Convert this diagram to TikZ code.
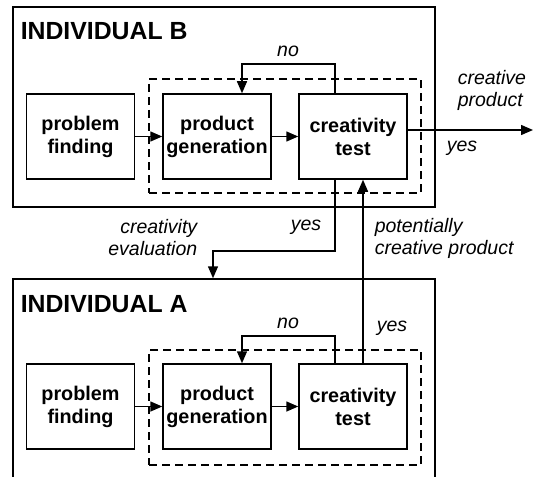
\documentclass[tikz,border=0pt]{standalone}
\usepackage{fontspec}
\setmainfont{Liberation Sans}
\usetikzlibrary{arrows.meta}
\begin{document}
\begin{tikzpicture}[x=1pt,y=-1pt,
  line width=1.5pt,
  arr/.style={-{Triangle[width=10pt,length=12pt]}},
  stage/.style={draw,minimum width=108pt,minimum height=85pt,inner sep=0pt,
    align=center,font=\fontsize{19.8}{23}\selectfont\bfseries},
  person/.style={draw,inner sep=0pt},
  loopframe/.style={draw,dashed,dash pattern=on 8pt off 5pt,inner sep=0pt},
  title/.style={anchor=west,inner sep=0pt,font=\fontsize{24.8}{28}\selectfont\bfseries},
  lbl/.style={inner sep=0pt,font=\fontsize{19.5}{22}\selectfont\itshape}]
\clip (0,0) rectangle (534,476);

% individual B
\node[person,minimum width=422pt,minimum height=200pt] (boxB) at (224,107) {};
\node[title] (titleB) at (20,31) {INDIVIDUAL B};
\node[loopframe,minimum width=272pt,minimum height=114pt] (dashB) at (285,136) {};
\node[stage] (pfB) at (80.5,136.5) {problem\\finding};
\node[stage] (pgB) at (217,136.5) {product\\generation};
\node[stage] (ctB) at (353,136.5) {creativity\\test};

% individual A
\node[person,minimum width=422pt,minimum height=242pt] (boxA) at (224,400) {};
\node[title] (titleA) at (20,304) {INDIVIDUAL A};
\node[loopframe,minimum width=272pt,minimum height=115pt] (dashA) at (285,407.5) {};
\node[stage] (pfA) at (80.5,406.5) {problem\\finding};
\node[stage] (pgA) at (217,406.5) {product\\generation};
\node[stage] (ctA) at (353,406.5) {creativity\\test};

% turning points
\coordinate (noB1) at (335,64);
\coordinate (noB2) at (242,64);
\coordinate (noA1) at (335,336);
\coordinate (noA2) at (242,336);
\coordinate (outB) at (533,130);
\coordinate (evR) at (335,251);
\coordinate (evL) at (213,251);
\coordinate (upX) at (363,0);

% flow inside B
\draw[arr] (pfB.east) -- (pgB.west);
\draw[arr] (pgB.east) -- (ctB.west);
\draw[arr] (ctB.north -| noB1) -- (noB1) -- (noB2) -- (pgB.north -| noB2);
\draw[arr] (ctB.east |- outB) -- (outB);

% flow inside A
\draw[arr] (pfA.east) -- (pgA.west);
\draw[arr] (pgA.east) -- (ctA.west);
\draw[arr] (ctA.north -| noA1) -- (noA1) -- (noA2) -- (pgA.north -| noA2);

% exchange between the individuals
\draw[arr] (ctB.south -| evR) -- (evR) -- (evL) -- (boxA.north -| evL);
\draw[arr] (ctA.north -| upX) -- (ctB.south -| upX);

% labels
\node[lbl] (noBl) at (288,51) {no};
\node[lbl] (noAl) at (288,323) {no};
\node[lbl,anchor=west,align=left] (cpl) at (457,90) {creative\\product};
\node[lbl,anchor=west] (yesOut) at (446,148) {yes};
\node[lbl,anchor=east,align=right] (evl) at (198,238) {creativity\\evaluation};
\node[lbl] (yesEv) at (306,227) {yes};
\node[lbl,anchor=west,align=left] (pcl) at (374,238) {potentially\\creative product};
\node[lbl,anchor=west] (yesA) at (376,328) {yes};
\end{tikzpicture}
\end{document}
